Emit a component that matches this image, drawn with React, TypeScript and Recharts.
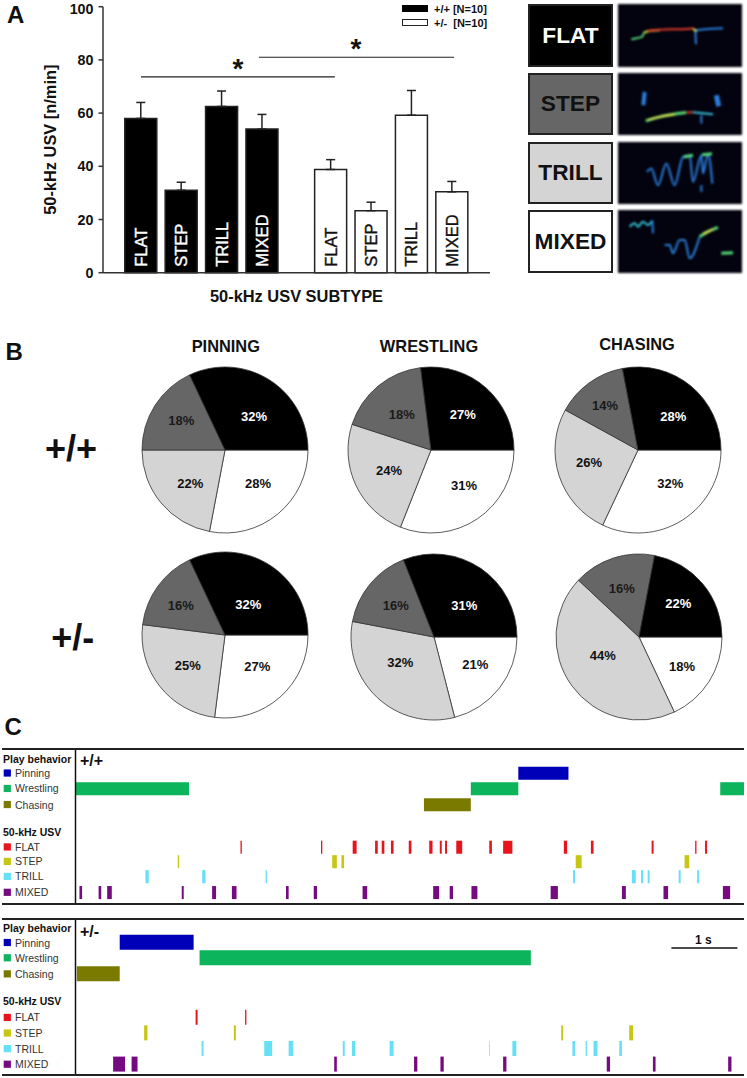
import {
  BarChart, Bar, ErrorBar, LabelList, Cell, XAxis, YAxis, ReferenceLine,
  PieChart, Pie, LineChart, Line,
} from "recharts";

const FONT = '"Liberation Sans", Arial, sans-serif';

// panel A
const subtypes = ["FLAT", "STEP", "TRILL", "MIXED"];
const wtValues = [58, 31, 62.5, 54];
const wtErrors = [6, 3, 5.8, 5.5];
const hetValues = [38.8, 23.3, 59.2, 30.4];
const hetErrors = [3.7, 3.2, 9.3, 3.9];
const wtSlots = [1, 2, 3, 4];
const hetSlots = [5.7, 6.7, 7.7, 8.7];
const yTicks = [0, 20, 40, 60, 80, 100];

const barRows = [
  ...subtypes.map((name, i) => ({ name, slot: wtSlots[i], value: wtValues[i], err: [0, wtErrors[i]], het: false })),
  ...subtypes.map((name, i) => ({ name, slot: hetSlots[i], value: hetValues[i], err: [0, hetErrors[i]], het: true })),
];

// panel B, slices go clockwise from 3 o'clock: MIXED, TRILL, STEP, FLAT
const sliceNames = ["MIXED", "TRILL", "STEP", "FLAT"];
const sliceFill = ["#ffffff", "#d4d4d4", "#666666", "#000000"];
const sliceText = ["#111", "#111", "#1a1a1a", "#fff"];
const pinningWt = [28, 22, 18, 32];
const wrestlingWt = [31, 24, 18, 27];
const chasingWt = [32, 26, 14, 28];
const pinningHet = [27, 25, 16, 32];
const wrestlingHet = [21, 32, 16, 31];
const chasingHet = [18, 44, 16, 22];

// where the picture puts each percentage, relative to the pie centre
const pies = [
  { values: pinningWt, cx: 224.7, cy: 449.7, text: [[33, 33.7], [-34.7, 33.7], [-43.7, -29.7], [29, -33.7]] },
  { values: wrestlingWt, cx: 431.3, cy: 450, text: [[33, 35.7], [-42, 20.7], [-29.3, -36], [31.7, -35.7]] },
  { values: chasingWt, cx: 637.7, cy: 450, text: [[32.3, 33.3], [-49, 12.3], [-33, -45], [35.3, -33.3]] },
  { values: pinningHet, cx: 225.3, cy: 635, text: [[32.3, 31], [-37.3, 30], [-44.3, -29.3], [23.3, -30.3]] },
  { values: wrestlingHet, cx: 434, cy: 636.7, text: [[41.3, 27.7], [-33.7, 25.3], [-38.3, -31.3], [30.3, -32]] },
  { values: chasingHet, cx: 639.3, cy: 636.7, text: [[43, 29], [-36.3, 18], [-17.3, -48.7], [39.3, -33.3]] },
];

// panel C, [start, end] in seconds
const wtPinning = [[6.71, 7.47]];
const wtWrestling = [[0, 1.72], [5.99, 6.71], [9.77, 10.13]];
const wtChasing = [[5.28, 5.99]];
const wtFlat = [
  [2.5, 2.52], [3.72, 3.74], [4.2, 4.26], [4.54, 4.58], [4.64, 4.68], [4.78, 4.82], [5.05, 5.09],
  [5.36, 5.41], [5.52, 5.55], [5.6, 5.63], [5.77, 5.86], [6.27, 6.31], [6.48, 6.62], [7.4, 7.45],
  [7.81, 7.85], [8.73, 8.76], [9.39, 9.41], [9.54, 9.57],
];
const wtStep = [[1.55, 1.57], [3.89, 3.96], [4.03, 4.07], [7.58, 7.67], [9.23, 9.3]];
const wtTrill = [
  [1.06, 1.11], [1.92, 1.97], [2.88, 2.9], [7.54, 7.57], [8.43, 8.49], [8.57, 8.6], [8.67, 8.7],
  [9.14, 9.17], [9.42, 9.45],
];
const wtMixed = [
  [0.06, 0.1], [0.35, 0.39], [0.48, 0.55], [1.61, 1.64], [2.07, 2.13], [2.37, 2.44], [3.19, 3.23],
  [3.61, 3.66], [4.35, 4.42], [5.42, 5.51], [5.67, 5.72], [6.0, 6.09], [7.2, 7.31], [8.28, 8.34],
  [8.91, 8.98], [9.81, 9.92],
];

const hetPinning = [[0.67, 1.79]];
const hetWrestling = [[1.88, 6.9]];
const hetChasing = [[0.02, 0.67]];
const hetFlat = [[1.82, 1.85], [2.57, 2.59]];
const hetStep = [[1.04, 1.09], [2.4, 2.43], [7.36, 7.39], [8.39, 8.45]];
const hetTrill = [
  [1.91, 1.94], [2.86, 2.98], [3.23, 3.3], [4.05, 4.08], [4.19, 4.24], [4.76, 4.82], [6.27, 6.28],
  [6.62, 6.68], [7.53, 7.57], [7.73, 7.75], [7.85, 7.91], [8.24, 8.28],
];
const hetMixed = [
  [0.57, 0.75], [0.85, 0.94], [3.92, 3.96], [5.13, 5.18], [5.53, 5.58], [6.48, 6.53], [8.05, 8.1],
  [8.75, 8.79], [9.89, 9.94],
];

const rowNames = ["Pinning", "Wrestling", "Chasing", "FLAT", "STEP", "TRILL", "MIXED"];
const rowColors = ["#0000b8", "#0cb45c", "#7a7a00", "#e8141c", "#c6c614", "#66e0f6", "#760a80"];
const wtRowPos = [1, 1.99, 3.02, 5.74, 6.67, 7.63, 8.65];
const hetRowPos = [1, 1.98, 3.01, 5.8, 6.8, 7.8, 8.8];
const wtHeadPos = [0.1, 4.76];
const hetHeadPos = [0.1, 4.73];
const headNames = ["Play behavior", "50-kHz USV"];

const wtSpans = [wtPinning, wtWrestling, wtChasing, wtFlat, wtStep, wtTrill, wtMixed];
const hetSpans = [hetPinning, hetWrestling, hetChasing, hetFlat, hetStep, hetTrill, hetMixed];

const BLUE = "#2b7fe0";
const CYAN = "#38c4dc";
const GREEN = "#58d878";
const YELLOW = "#e4e048";
const RED = "#e2392a";

const flatTraces = [
  { color: GREEN, pts: [[40, 105], [55, 102], [72, 98], [78, 85]] },
  { color: YELLOW, pts: [[78, 85], [100, 80], [125, 78]] },
  { color: RED, pts: [[90, 80], [120, 77], [160, 75], [190, 75], [225, 73]] },
  { color: BLUE, pts: [[232, 78], [260, 75], [315, 72]] },
  { color: BLUE, pts: [[232, 80], [234, 120]] },
  { color: YELLOW, pts: [[225, 73], [236, 82]] },
];
const stepTraces = [
  { color: BLUE, pts: [[80, 57], [76, 97]], w: 4 },
  { color: BLUE, pts: [[295, 67], [302, 100]], w: 5 },
  { color: BLUE, pts: [[250, 127], [250, 152]] },
  { color: GREEN, pts: [[83, 144], [125, 132], [205, 119]], w: 3 },
  { color: YELLOW, pts: [[90, 141], [125, 132], [170, 124]] },
  { color: RED, pts: [[205, 119], [225, 118]] },
  { color: CYAN, pts: [[225, 118], [285, 124]] },
];
const trillTraces = [
  {
    color: BLUE,
    pts: [[87, 90], [100, 80], [120, 130], [145, 65], [170, 130], [195, 45], [215, 40], [225, 120], [250, 40], [255, 95], [270, 35], [283, 125]],
  },
  { color: GREEN, pts: [[197, 45], [225, 40]], w: 3 },
  { color: GREEN, pts: [[252, 38], [282, 35]], w: 3 },
  { color: BLUE, pts: [[250, 130], [250, 150]] },
];
const mixedTraces = [
  { color: CYAN, pts: [[35, 50], [50, 40], [60, 50], [75, 35], [90, 45], [103, 32]] },
  { color: BLUE, pts: [[103, 32], [105, 70]] },
  { color: BLUE, pts: [[140, 105], [155, 105], [165, 130], [185, 90], [200, 90], [215, 145], [245, 80]] },
  { color: GREEN, pts: [[245, 80], [270, 65], [300, 52]], w: 3 },
  { color: YELLOW, pts: [[255, 72], [285, 58]] },
  { color: GREEN, pts: [[310, 130], [345, 128]], w: 3 },
];

const boxes = [
  { name: "FLAT", top: 3.5, height: 63, fill: "#000000", color: "#fff", traces: flatTraces },
  { name: "STEP", top: 72.7, height: 62.5, fill: "#666666", color: "#111", traces: stepTraces },
  { name: "TRILL", top: 141.7, height: 62.5, fill: "#d4d4d4", color: "#111", traces: trillTraces },
  { name: "MIXED", top: 210, height: 62.7, fill: "#ffffff", color: "#111", traces: mixedTraces },
];

function Txt({ x, y, size, bold = true, anchor = "center", children }: any) {
  const shift = anchor === "center" ? "-50%" : "0";
  return (
    <div
      style={{
        position: "absolute", left: x, top: y, transform: `translate(${shift}, -50%)`,
        fontSize: size, fontWeight: bold ? "bold" : "normal", lineHeight: 1, whiteSpace: "nowrap", color: "#111",
      }}
    >
      {children}
    </div>
  );
}

function Rule({ x, y, w, h = 2 }: any) {
  return <div style={{ position: "absolute", left: x, top: y, width: w, height: h, background: "#222" }} />;
}

function SubtypeBars() {
  return (
    <div style={{ position: "absolute", left: 0, top: 0 }}>
      <BarChart width={510} height={310} data={barRows} margin={{ top: 6.7, right: 20, bottom: 0, left: 43 }}>
        <XAxis
          type="number" dataKey="slot" domain={[0.06, 9.64]} tick={false} tickLine={false} height={37.3}
          axisLine={{ stroke: "#333", strokeWidth: 1.5 }}
          label={{ value: "50-kHz USV SUBTYPE", position: "insideBottom", offset: 8, fontSize: 16.4, fontWeight: "bold", fill: "#111" }}
        />
        <YAxis
          domain={[0, 100]} ticks={yTicks} width={60} tickSize={4.5} tickMargin={5}
          axisLine={{ stroke: "#333", strokeWidth: 1.5 }} tickLine={{ stroke: "#333", strokeWidth: 1.5 }}
          tick={{ fontSize: 14.3, fontWeight: "bold", fill: "#111" }}
          label={{
            value: "50-kHz USV [n/min]", angle: -90, position: "insideLeft", offset: 7, fontSize: 16.4, fontWeight: "bold",
            fill: "#111", style: { textAnchor: "middle" },
          }}
        />
        <ReferenceLine segment={[{ x: 1, y: 73.6 }, { x: 5.8, y: 73.6 }]} stroke="#222" strokeWidth={1.2} />
        <ReferenceLine segment={[{ x: 3.92, y: 81 }, { x: 8.75, y: 81 }]} stroke="#222" strokeWidth={1.2} />
        <Bar dataKey="value" barSize={32} stroke="#222" strokeWidth={1.5} isAnimationActive={false}>
          {barRows.map((r) => (
            <Cell key={r.slot} fill={r.het ? "#fff" : "#000"} />
          ))}
          <ErrorBar dataKey="err" direction="y" width={4.5} stroke="#222" strokeWidth={1.5} />
          <LabelList
            dataKey="name"
            content={(p: any) => {
              const cx = p.x + p.width / 2;
              const base = p.y + p.height - 6;
              const color = barRows[p.index].het ? "#111" : "#fff";
              return (
                <text
                  x={cx} y={base} transform={`rotate(-90 ${cx} ${base})`} dominantBaseline="central" fontSize={16.5}
                  fill={color} stroke={color} strokeWidth={0.4}
                >
                  {p.value}
                </text>
              );
            }}
          />
        </Bar>
      </BarChart>
    </div>
  );
}

function Spectrogram({ top, height, traces }: any) {
  return (
    <div style={{ position: "absolute", left: 618.3, top, background: "#02030e", filter: "blur(0.9px)" }}>
      <LineChart width={124} height={height} margin={{ top: 0, right: 0, bottom: 0, left: 0 }}>
        <XAxis hide type="number" dataKey="t" domain={[0, 372]} />
        <YAxis hide type="number" reversed domain={[0, 188]} />
        {traces.map((tr: any, i: number) => (
          <Line
            key={i}
            data={tr.pts.map(([t, f]: number[]) => ({ t, f }))}
            type="monotone" dataKey="f" stroke={tr.color} strokeWidth={tr.w ?? 2} dot={false} isAnimationActive={false}
          />
        ))}
      </LineChart>
    </div>
  );
}

function SubtypePie({ values, cx, cy, text }: any) {
  const data = values.map((value: number, i: number) => ({ name: sliceNames[i], value }));
  return (
    <div style={{ position: "absolute", left: cx - 90, top: cy - 90 }}>
      <PieChart width={180} height={180} margin={{ top: 0, right: 0, bottom: 0, left: 0 }}>
        <Pie
          data={data} dataKey="value" cx={90} cy={90} outerRadius={83} startAngle={0} endAngle={-360}
          stroke="#333" strokeWidth={0.8} labelLine={false} isAnimationActive={false}
          label={(p: any) => (
            <text
              x={90 + text[p.index][0]} y={90 + text[p.index][1]} textAnchor="middle" dominantBaseline="central"
              fontSize={13} fontWeight="bold" fill={sliceText[p.index]}
            >
              {`${p.value}%`}
            </text>
          )}
        >
          {data.map((d: any, i: number) => (
            <Cell key={d.name} fill={sliceFill[i]} />
          ))}
        </Pie>
      </PieChart>
    </div>
  );
}

function Ethogram({ top, height, domain, spans, rowPos, headPos, scaleBar }: any) {
  const events = spans.flatMap((list: number[][], i: number) =>
    list.map((span) => ({ row: rowPos[i], span, fill: rowColors[i] })),
  );
  const ticks = [...headPos, ...rowPos];
  return (
    <div style={{ position: "absolute", left: 0, top }}>
      <BarChart width={747} height={height} layout="vertical" data={events} margin={{ top: 0, right: 3, bottom: 0, left: 0 }}>
        <XAxis hide type="number" domain={[0, 10.13]} />
        <YAxis
          type="number" dataKey="row" domain={domain} width={75.5} ticks={ticks} interval={0} tickLine={false}
          axisLine={{ stroke: "#111", strokeWidth: 1.5 }}
          tick={(p: any) => {
            const head = headPos.indexOf(p.payload.value);
            if (head >= 0) {
              return (
                <text x={3} y={p.y} dominantBaseline="central" fontSize={10.5} fontWeight="bold" fill="#111">
                  {headNames[head]}
                </text>
              );
            }
            const i = rowPos.indexOf(p.payload.value);
            return (
              <g>
                <rect x={3.7} y={p.y - 3.6} width={7.2} height={7.2} fill={rowColors[i]} />
                <text x={15} y={p.y} dominantBaseline="central" fontSize={10.5} fill="#333">
                  {rowNames[i]}
                </text>
              </g>
            );
          }}
        />
        {scaleBar && (
          <ReferenceLine segment={[{ x: 9.03, y: 1.35 }, { x: 10.03, y: 1.35 }]} stroke="#111" strokeWidth={1.5} />
        )}
        <Bar dataKey="span" barSize={15} isAnimationActive={false}>
          {events.map((e: any, i: number) => (
            <Cell key={i} fill={e.fill} />
          ))}
        </Bar>
      </BarChart>
    </div>
  );
}

export default function App() {
  return (
    <div style={{ position: "absolute", left: 0, top: 0, width: 747, height: 1078, background: "#fff", fontFamily: FONT, overflow: "hidden" }}>
      <SubtypeBars />
      <Txt x={7} y={15} size={24} anchor="start">A</Txt>
      <Txt x={238} y={69} size={28}>*</Txt>
      <Txt x={356} y={49} size={28}>*</Txt>

      <div style={{ position: "absolute", left: 401.7, top: 5, width: 26.3, height: 7, background: "#000" }} />
      <div style={{ position: "absolute", left: 401.7, top: 19, width: 26.3, height: 7, background: "#fff", border: "1.5px solid #222", boxSizing: "border-box" }} />
      <Txt x={434} y={9} size={11} anchor="start">+/+ [N=10]</Txt>
      <Txt x={434} y={23} size={11} anchor="start">+/-&nbsp; [N=10]</Txt>

      {boxes.map((b) => (
        <div
          key={b.name}
          style={{
            position: "absolute", left: 528, top: b.top, width: 85, height: b.height, boxSizing: "border-box",
            background: b.fill, border: "2px solid #222", color: b.color, fontSize: 22.7, fontWeight: "bold",
            display: "flex", alignItems: "center", justifyContent: "center",
          }}
        >
          {b.name}
        </div>
      ))}
      {boxes.map((b) => (
        <Spectrogram key={b.name} top={b.top} height={b.height} traces={b.traces} />
      ))}

      <Txt x={5.5} y={351.5} size={24} anchor="start">B</Txt>
      <Txt x={225.8} y={345.7} size={16.4}>PINNING</Txt>
      <Txt x={429} y={345.7} size={16.4}>WRESTLING</Txt>
      <Txt x={637} y={344.3} size={16.4}>CHASING</Txt>
      <Txt x={71} y={449} size={36}>+/+</Txt>
      <Txt x={72.7} y={638} size={36}>+/-</Txt>
      {pies.map((p) => (
        <SubtypePie key={`${p.cx}-${p.cy}`} {...p} />
      ))}

      <Txt x={4.5} y={726.5} size={24} anchor="start">C</Txt>
      <Ethogram top={749} height={155} domain={[-0.54, 9.4]} spans={wtSpans} rowPos={wtRowPos} headPos={wtHeadPos} />
      <Rule x={2.3} y={748} w={741.7} />
      <Rule x={2.3} y={902.5} w={741.7} />
      <Txt x={80} y={761} size={16} anchor="start">+/+</Txt>

      <Ethogram top={918} height={157} domain={[-0.57, 9.49]} spans={hetSpans} rowPos={hetRowPos} headPos={hetHeadPos} scaleBar />
      <Rule x={2.3} y={917.7} w={741.7} />
      <Rule x={2.3} y={1074} w={741.7} />
      <Txt x={80} y={932.3} size={16} anchor="start">+/-</Txt>
      <Txt x={703.3} y={940} size={12}>1 s</Txt>
    </div>
  );
}
